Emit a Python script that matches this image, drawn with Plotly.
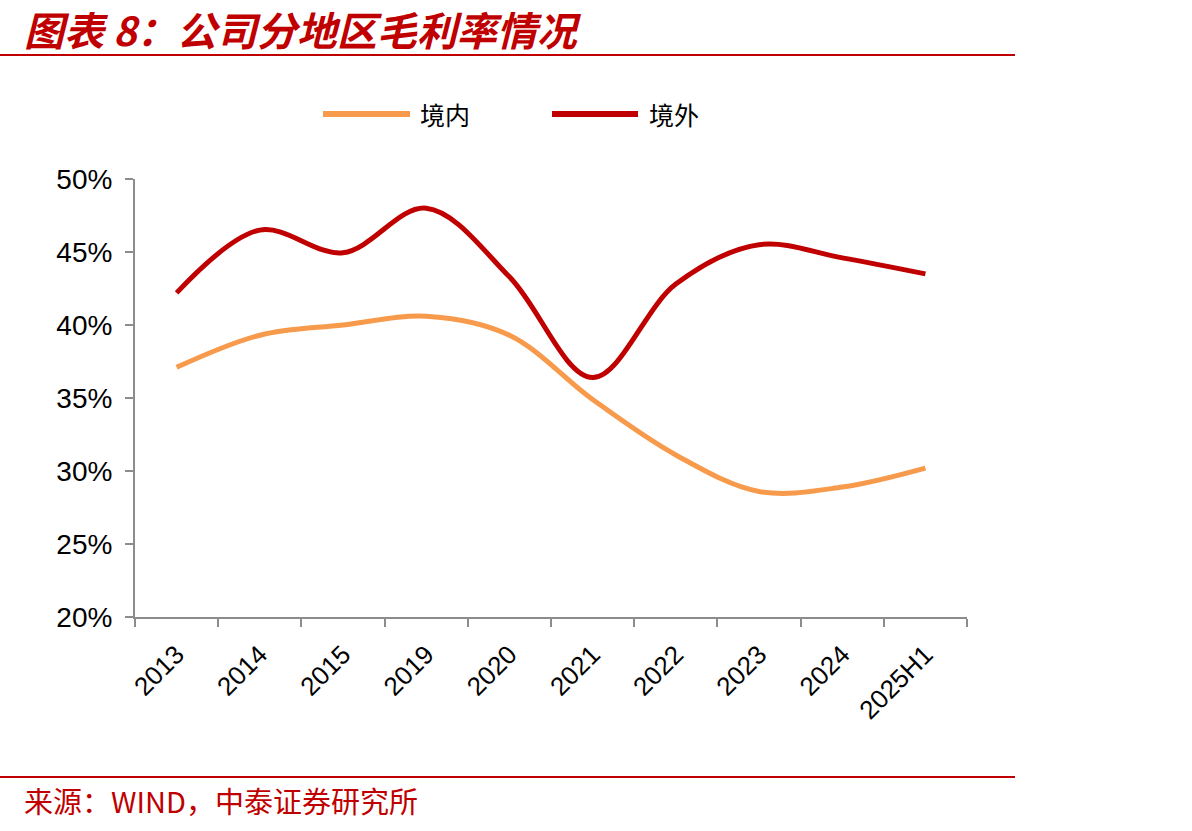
import plotly.graph_objects as go

categories = ["2013", "2014", "2015", "2019", "2020", "2021", "2022", "2023", "2024", "2025H1"]
domestic = [37.1, 39.3, 40.0, 40.6, 39.3, 34.9, 31.1, 28.6, 28.9, 30.2]
overseas = [42.2, 46.5, 44.95, 48.0, 43.3, 36.4, 42.8, 45.5, 44.6, 43.5]
series_names = ["境内", "境外"]
colors = ["#F79A4C", "#C00000"]
y_ticks = [20, 25, 30, 35, 40, 45, 50]
y_tick_labels = [f"{v}%" for v in y_ticks]

title_text = "图表 8：公司分地区毛利率情况"
source_text = "来源：WIND，中泰证券研究所"

W, H = 1192, 831
L, R, T, B = 135, 967, 179, 617  # plot area in pixels


def px(x):
    return (x - L) / (R - L)


def py(y):
    return (B - y) / (B - T)


fig = go.Figure()
for name, vals, col in zip(series_names, [domestic, overseas], colors):
    fig.add_trace(go.Scatter(
        x=categories, y=vals, name=name, mode="lines",
        line=dict(color=col, width=5, shape="spline", smoothing=1.0),
        showlegend=False,
    ))

axis_col = "#8C8C8C"
fig.update_xaxes(
    type="category", range=[-0.5, len(categories) - 0.5],
    showline=True, linecolor=axis_col, linewidth=2,
    ticks="outside", tickson="boundaries", ticklen=8, tickwidth=2, tickcolor=axis_col,
    showgrid=False, zeroline=False, tickangle=-45, ticklabelstandoff=10,
    tickfont=dict(family="Liberation Sans, Arial", size=26, color="#000000"),
)
fig.update_yaxes(
    range=[20, 50], tickvals=y_ticks, ticktext=y_tick_labels,
    showline=True, linecolor=axis_col, linewidth=2,
    ticks="outside", ticklen=8, tickwidth=2, tickcolor=axis_col,
    showgrid=False, zeroline=False, ticklabelstandoff=7,
    tickfont=dict(family="Liberation Sans, Arial", size=28, color="#000000"),
)

shapes = []
annotations = []
# title and rules
shapes.append(dict(type="line", xref="paper", yref="paper", x0=px(0), x1=px(1015), y0=py(55), y1=py(55),
                   line=dict(color="#C00000", width=2)))
shapes.append(dict(type="line", xref="paper", yref="paper", x0=px(0), x1=px(1015), y0=py(777), y1=py(777),
                   line=dict(color="#C00000", width=2)))
annotations.append(dict(xref="paper", yref="paper", x=px(22), y=py(29), xanchor="left", yanchor="middle",
                        text=f"<b><i>{title_text}</i></b>", showarrow=False,
                        font=dict(family="Noto Sans CJK SC", size=40, color="#C00000")))
annotations.append(dict(xref="paper", yref="paper", x=px(22), y=py(800), xanchor="left", yanchor="middle",
                        text=source_text, showarrow=False,
                        font=dict(family="Noto Sans CJK SC, Liberation Sans", size=29, color="#C00000")))

# legend
leg = [(323, 410, 418), (552, 638, 647)]
for (x0, x1, xt), name, col in zip(leg, series_names, colors):
    shapes.append(dict(type="line", xref="paper", yref="paper", x0=px(x0), x1=px(x1), y0=py(114), y1=py(114),
                       line=dict(color=col, width=6)))
    annotations.append(dict(xref="paper", yref="paper", x=px(xt), y=py(114), xanchor="left", yanchor="middle",
                            text=name, showarrow=False,
                            font=dict(family="Noto Sans CJK SC", size=25, color="#000000")))

fig.update_layout(
    width=W, height=H,
    margin=dict(l=L, r=W - R, t=T, b=H - B, autoexpand=False),
    paper_bgcolor="white", plot_bgcolor="white",
    shapes=shapes, annotations=annotations,
)

fig.write_html("out.html")
